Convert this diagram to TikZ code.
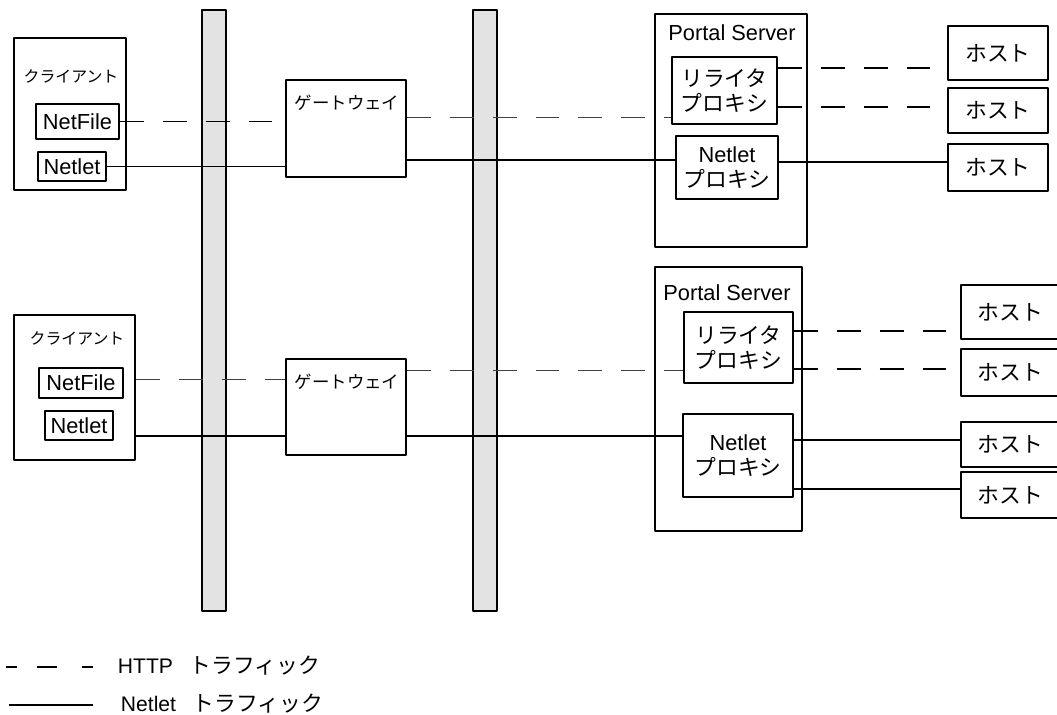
\documentclass[tikz,border=0pt]{standalone}
\usepackage{fontspec}
\setmainfont{Liberation Sans}
\newfontfamily\jp{Noto Sans CJK JP}
\usetikzlibrary{fit}

\begin{document}
\begin{tikzpicture}[x=0.025cm, y=-0.025cm, line join=round,
	font=\fontsize{15.5}{18}\selectfont,
	box/.style={draw, line width=1.2pt, inner sep=0pt},
	bar/.style={draw, line width=1.2pt, fill=black!11, inner sep=0pt},
	mid/.style={label={[align=center, inner sep=0pt]center:#1}},
	netlet/.style={line width=1.2pt},
	http/.style={line width=1.2pt, dash pattern=on 17pt off 13.5pt},
	httpthin/.style={line width=0.7pt, draw=black!75, dash pattern=on 17pt off 13.5pt},
	small/.style={font=\jp\fontsize{11.3}{13}\selectfont}]
	\useasboundingbox (0,0) rectangle (1057,715);
	% firewalls
	\node[bar, fit={(202,10) (226,611)}] (fw1) {};
	\node[bar, fit={(473,10) (497,611)}] (fw2) {};
	% upper row
	\node[box, fit={(14,38) (126,190)}] (cl1) {};
	\node[small] (cl1t) at (71,76) {クライアント};
	\node[box, fit={(36,104) (119,139)}, mid={NetFile}] (nf1) {};
	\node[box, fit={(38,152) (106,181)}, mid={Netlet}] (nl1) {};
	\node[box, fit={(286,80) (406,177)}] (gw1) {};
	\node[small, font=\jp\fontsize{12.4}{14}\selectfont] (gw1t) at (347,103) {ゲートウェイ};
	\node[box, fit={(655,14) (807,247)}] (ps1) {};
	\node (ps1t) at (732,33) {Portal Server};
	\node[box, fit={(672,57) (777,124)}, mid={{\jp リライタ}\\{\jp プロキシ}}] (rw1) {};
	\node[box, fit={(676,136) (778,199)}, mid={Netlet\\{\jp プロキシ}}] (np1) {};
	\foreach \n/\a/\b in {h1/26/80, h2/88/133, h3/144/191}
	\node[box, fit={(948,\a) (1048,\b)}, mid={\jp ホスト}] (\n) {};
	% lower row
	\node[box, fit={(14,315) (135,460)}] (cl2) {};
	\node[small] (cl2t) at (77,338) {クライアント};
	\node[box, fit={(39,368) (123,398)}, mid={NetFile}] (nf2) {};
	\node[box, fit={(45,411) (113,440)}, mid={Netlet}] (nl2) {};
	\node[box, fit={(286,359) (406,455)}] (gw2) {};
	\node[small, font=\jp\fontsize{12.4}{14}\selectfont] (gw2t) at (347,382) {ゲートウェイ};
	\node[box, fit={(655,267) (802,531)}] (ps2) {};
	\node (ps2t) at (727,293) {Portal Server};
	\node[box, fit={(684,312) (793,383)}, mid={{\jp リライタ}\\{\jp プロキシ}}] (rw2) {};
	\node[box, fit={(683,414) (793,497)}, mid={Netlet\\{\jp プロキシ}}] (np2) {};
	\foreach \n/\a/\b in {h4/285/339, h5/349/396, h6/422/467, h7/472/518}
	\node[box, fit={(961,\a) (1060,\b)}, mid={\jp ホスト}] (\n) {};
	% traffic, upper
	\draw[http] (nf1.east) -- (nf1.east -| gw1.west);
	\draw[netlet] (nl1.east) -- (nl1.east -| gw1.west);
	\draw[httpthin] (gw1.east |- 0,117) -- (rw1.west |- 0,117);
	\draw[netlet] (gw1.east |- 0,160) -- (np1.west |- 0,160);
	\draw[http] (rw1.east |- 0,68) -- (h1.west |- 0,68);
	\draw[http] (rw1.east |- 0,107) -- (h2.west |- 0,107);
	\draw[netlet] (np1.east |- 0,162) -- (h3.west |- 0,162);
	% traffic, lower
	\draw[httpthin] (cl2.east |- 0,379) -- (gw2.west |- 0,379);
	\draw[netlet] (cl2.east |- 0,436) -- (gw2.west |- 0,436);
	\draw[httpthin] (gw2.east |- 0,370) -- (rw2.west |- 0,370);
	\draw[netlet] (gw2.east |- 0,436) -- (np2.west |- 0,436);
	\draw[http] (rw2.east |- 0,331) -- (h4.west |- 0,331);
	\draw[http] (rw2.east |- 0,369) -- (h5.west |- 0,369);
	\draw[netlet] (np2.east |- 0,440) -- (h6.west |- 0,440);
	\draw[netlet] (np2.east |- 0,489) -- (h7.west |- 0,489);
	% legend
	\path
	(6,667) coordinate (ka) (93,667) coordinate (kb)
	(9,705) coordinate (kc) (93,705) coordinate (kd);
	\draw[line width=1.2pt, dash pattern=on 7.8pt off 14.2pt on 14.2pt off 17.7pt] (ka) -- (kb);
	\draw[netlet] (kc) -- (kd);
	\node[anchor=west, font=\fontsize{15}{17}\selectfont] (kt1) at (113,666) {HTTP\hspace{0.8em}{\jp\fontsize{15.5}{18}\selectfont トラフィック}};
	\node[anchor=west, font=\fontsize{15}{17}\selectfont] (kt2) at (116,704) {Netlet\hspace{0.8em}{\jp\fontsize{15.5}{18}\selectfont トラフィック}};
\end{tikzpicture}
\end{document}
